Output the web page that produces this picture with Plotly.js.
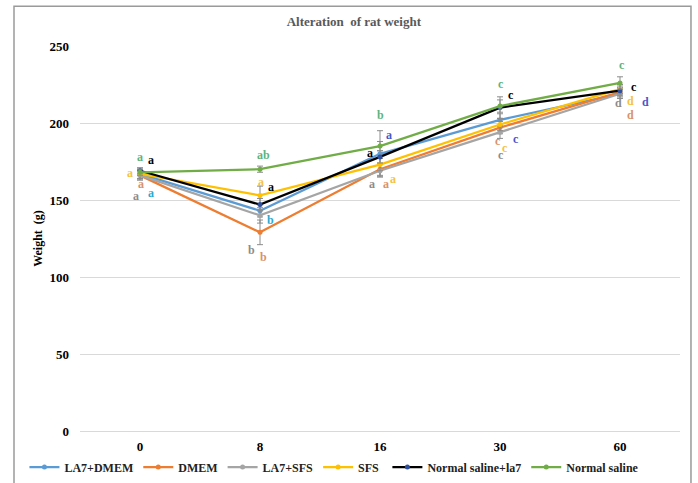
<!DOCTYPE html>
<html>
<head>
<meta charset="utf-8">
<script src="https://cdn.plot.ly/plotly-3.0.1.min.js"></script>
<style>html,body{margin:0;padding:0;background:#fff;}#chart{width:698px;height:483px;}</style>
</head>
<body>
<div id="chart"></div>
<script>
// ---- data ----
var days = ["0", "8", "16", "30", "60"];
var seriesNames = ["LA7+DMEM", "DMEM", "LA7+SFS", "SFS", "Normal saline+la7", "Normal saline"];
var la7Dmem    = [167, 143, 180, 202, 219];
var dmem       = [166, 129, 170, 197, 220];
var la7Sfs     = [166, 140, 169, 194, 219];
var sfs        = [167, 153, 173, 199, 222];
var salineLa7  = [169, 147, 178, 210, 221];
var saline     = [168, 170, 185, 211, 226];
var errLa7Dmem   = [3, 4, 15, 4, 3];
var errDmem      = [3, 8, 4, 4, 3];
var errLa7Sfs    = [3, 5, 4, 4, 3];
var errSfs       = [3, 6, 4, 4, 3];
var errSalineLa7 = [2, 4, 4, 7, 3];
var errSaline    = [2, 2, 3, 4, 4];
// significance letters: [day, value, letter, colourIndex, xshift]
var letters = [
  ["0", 177.7, "a", 5, 0], ["0", 176.0, "a", 4, 11], ["0", 167.5, "a", 3, -10],
  ["0", 160.5, "a", 1, 1], ["0", 152.5, "a", 2, -4], ["0", 154.7, "a", 0, 11],
  ["8", 179.0, "ab", 5, 3], ["8", 161.7, "a", 3, 1], ["8", 158.4, "a", 4, 11],
  ["8", 137.3, "b", 0, 10], ["8", 117.3, "b", 2, -9], ["8", 113.0, "b", 1, 3],
  ["16", 205.0, "b", 5, 0], ["16", 192.0, "a", 6, 9], ["16", 180.8, "a", 4, -10],
  ["16", 160.6, "a", 2, -8], ["16", 160.6, "a", 1, 6], ["16", 163.9, "a", 3, 13],
  ["30", 225.1, "c", 5, 1], ["30", 217.9, "c", 4, 11], ["30", 188.0, "c", 1, -2],
  ["30", 184.0, "c", 3, 5], ["30", 179.0, "c", 2, 1], ["30", 189.4, "c", 6, 16],
  ["60", 237.5, "c", 5, 2], ["60", 223.4, "c", 4, 14], ["60", 213.0, "d", 2, -2],
  ["60", 214.5, "d", 3, 10], ["60", 205.5, "d", 1, 10], ["60", 213.6, "d", 6, 25]
];

// ---- styles ----
var lineColors = ["#5B9BD5", "#ED7D31", "#A5A5A5", "#FFC000", "#000000", "#70AD47"];
var markerColors = ["#5B9BD5", "#ED7D31", "#A5A5A5", "#FFC000", "#2F4F9F", "#70AD47"];
var letterColors = ["#2EA8D0", "#D9926A", "#8C8C8C", "#F5C242", "#000000", "#5DB37E", "#4B55C8"];
var values = [la7Dmem, dmem, la7Sfs, sfs, salineLa7, saline];
var errs = [errLa7Dmem, errDmem, errLa7Sfs, errSfs, errSalineLa7, errSaline];
var serif = "Liberation Serif, Times New Roman, serif";

var traces = values.map(function (v, i) {
  return {
    x: days, y: v, name: seriesNames[i], type: "scatter", mode: "lines+markers",
    legend: i < 4 ? "legend" : "legend2",
    line: {color: lineColors[i], width: 2.25},
    marker: {color: markerColors[i], size: 5},
    error_y: {type: "data", array: errs[i], visible: true, color: "#8C8C8C", thickness: 1, width: 3}
  };
});

var annotations = letters.map(function (l) {
  return {
    x: days.indexOf(l[0]), y: l[1], xref: "x", yref: "y", text: l[2], showarrow: false,
    xshift: l[4], font: {family: serif, size: 12, weight: "bold", color: letterColors[l[3]]}
  };
});

var legendFont = {family: serif, size: 12, weight: "bold", color: "#222"};
var layout = {
  width: 698, height: 483,
  margin: {l: 80, r: 18, t: 46, b: 52},
  paper_bgcolor: "#fff", plot_bgcolor: "#fff",
  title: {text: "Alteration  of rat weight", x: 0.507, xanchor: "center", y: 0.955, yanchor: "middle",
          font: {family: serif, size: 13, weight: "bold", color: "#595959"}},
  showlegend: true,
  legend: {orientation: "h", xref: "container", yref: "container", x: 0.035, xanchor: "left",
           y: 0.033, yanchor: "middle", bgcolor: "rgba(0,0,0,0)",
           font: legendFont, itemwidth: 30, tracegroupgap: 0},
  legend2: {orientation: "h", xref: "container", yref: "container", x: 0.555, xanchor: "left",
           y: 0.033, yanchor: "middle", bgcolor: "rgba(0,0,0,0)",
           font: legendFont, itemwidth: 30, tracegroupgap: 0},
  xaxis: {type: "category", showgrid: false, zeroline: false, showline: false, ticks: "",
          ticklabelstandoff: 6,
          tickfont: {family: serif, size: 13, weight: "bold", color: "#000"}, range: [-0.5, 4.5]},
  yaxis: {range: [0, 250], dtick: 50, showgrid: true, gridcolor: "#D9D9D9", gridwidth: 1,
          zeroline: true, zerolinecolor: "#D9D9D9", zerolinewidth: 1, showline: false, ticks: "", ticklabelstandoff: 10,
          tickfont: {family: serif, size: 13, weight: "bold", color: "#000"},
          title: {text: "Weight  (g)", standoff: 4, font: {family: serif, size: 12, weight: "bold", color: "#000"}}},
  annotations: annotations,
  shapes: [{type: "rect", xref: "paper", yref: "paper", x0: -0.11, x1: 1.0183, y0: -0.2, y1: 1.103,
            line: {color: "#9A9A9A", width: 1.5}, fillcolor: "rgba(0,0,0,0)", layer: "below"}]
};

Plotly.newPlot("chart", traces, layout, {displayModeBar: false, staticPlot: true});
</script>
</body>
</html>
